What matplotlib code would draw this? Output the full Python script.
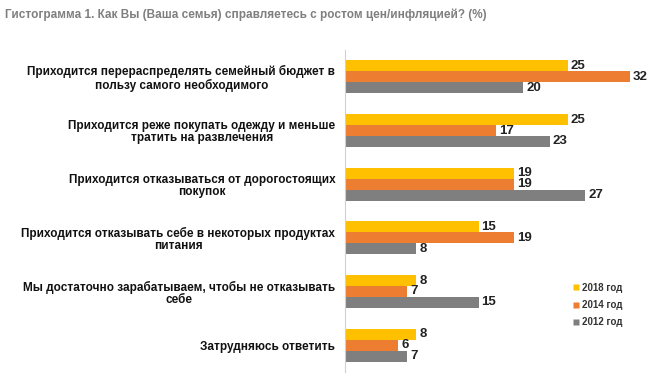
import matplotlib
matplotlib.use("Agg")
import matplotlib.pyplot as plt
import numpy as np
from matplotlib.lines import Line2D

plt.rcParams['font.family'] = ['Liberation Sans', 'DejaVu Sans']

title = "Гистограмма 1. Как Вы (Ваша семья) справляетесь с ростом цен/инфляцией? (%)"
categories = [
    "Приходится перераспределять семейный бюджет в\nпользу самого необходимого",
    "Приходится реже покупать одежду и меньше\nтратить на развлечения",
    "Приходится отказываться от дорогостоящих\nпокупок",
    "Приходится отказывать себе в некоторых продуктах\nпитания",
    "Мы достаточно зарабатываем, чтобы не отказывать\nсебе",
    "Затрудняюсь ответить",
]
series_names = ["2018 год", "2014 год", "2012 год"]
v2018 = [25, 25, 19, 15, 8, 8]
v2014 = [32, 17, 19, 19, 7, 6]
v2012 = [20, 23, 27, 8, 15, 7]
colors = ["#FFC000", "#ED7D31", "#7F7F7F"]

W, H = 657, 380
fig = plt.figure(figsize=(W / 100, H / 100), dpi=100)
x0, x1 = 345, 647
y_top, y_bot = 50, 372
ax = fig.add_axes([x0 / W, 1 - y_bot / H, (x1 - x0) / W, (y_bot - y_top) / H])

n = len(categories)
ypos = np.arange(n)
bh = 0.203
for i, (vals, col) in enumerate(zip([v2018, v2014, v2012], colors)):
    yy = ypos + (i - 1) * bh
    ax.barh(yy, vals, height=bh, color=col, edgecolor='none')
    for y, v in zip(yy, vals):
        ax.text(v + 0.35, y, str(v), va='center', ha='left', fontsize=9.5,
                fontweight='bold', color='#222222')

ax.set_ylim(n - 0.5, -0.5)
ax.set_xlim(0, (x1 - x0) / 8.9)
ax.set_xticks([])
ax.set_yticks(ypos)
ax.set_yticklabels(categories, fontsize=8.5, fontweight='bold', color='#111111',
                   multialignment='center', linespacing=1.05)
ax.tick_params(axis='y', length=0, pad=7)
for s in ['top', 'right', 'bottom']:
    ax.spines[s].set_visible(False)
ax.spines['left'].set_color('#D0D0D0')
ax.spines['left'].set_linewidth(0.8)

fig.text(5 / W, 1 - 15 / H, title, fontsize=8.5, fontweight='bold', color='#7F7F7F',
         va='center', ha='left')

handles = [Line2D([0], [0], marker='s', linestyle='none', markersize=4.5,
                  markerfacecolor=c, markeredgecolor='none') for c in colors]
leg = fig.legend(handles, series_names, loc='upper left',
                 bbox_to_anchor=(568 / W, 1 - 278 / H), frameon=False,
                 prop={'size': 7, 'weight': 'bold'}, handlelength=0.6,
                 handletextpad=0.3, labelspacing=0.75, borderpad=0)
for t in leg.get_texts():
    t.set_color('#333333')

fig.savefig("out.png", dpi=100)
